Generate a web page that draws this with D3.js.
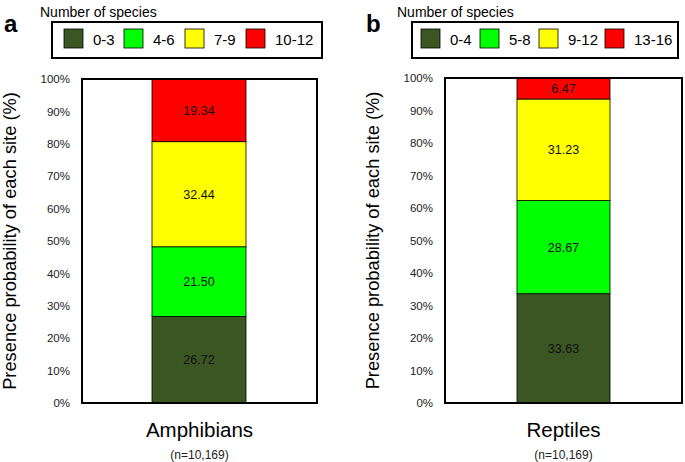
<!DOCTYPE html>
<html>
<head>
<meta charset="utf-8">
<script src="https://cdn.jsdelivr.net/npm/d3@7"></script>
<style>
  body { margin: 0; background: #fff; }
  text { font-family: "Liberation Sans", Arial, sans-serif; }
</style>
</head>
<body>
<svg id="chart" width="685" height="462"></svg>
<script>
// Données
const colors = ["#3b5523", "#00ff00", "#ffff00", "#ff0000"];
const ticks = [0, 10, 20, 30, 40, 50, 60, 70, 80, 90, 100];

const amphClasses = ["0-3", "4-6", "7-9", "10-12"];
const amphValues = [26.72, 21.50, 32.44, 19.34];

const reptClasses = ["0-4", "5-8", "9-12", "13-16"];
const reptValues = [33.63, 28.67, 31.23, 6.47];

const svg = d3.select("#chart");

// Position de chaque panneau
const panels = [
  { letter: "a", name: "Amphibians", n: "(n=10,169)", classes: amphClasses, values: amphValues,
    box: [82, 317], top: 79, bottom: 403, bar: [152, 246],
    legX: 52, legW: 270, swatchX: [64, 124, 185, 246], titleX: 40, letterX: 4 },
  { letter: "b", name: "Reptiles", n: "(n=10,169)", classes: reptClasses, values: reptValues,
    box: [445, 682], top: 78, bottom: 403, bar: [517, 610],
    legX: 412, legW: 266, swatchX: [421, 480, 539, 605], titleX: 397, letterX: 366 }
];

function drawPanel(p) {
  const g = svg.append("g");

  const y = d3.scaleLinear().domain([0, 100]).range([p.bottom, p.top]);

  // Empile les valeurs
  const stack = [];
  let acc = 0;
  p.values.forEach((v, i) => {
    stack.push({ y0: acc, y1: acc + v, v, i });
    acc += v;
  });

  // Fond du graphique
  g.append("rect")
    .attr("x", p.box[0]).attr("y", p.top)
    .attr("width", p.box[1] - p.box[0]).attr("height", p.bottom - p.top)
    .attr("fill", "#fff");

  // Segments de la barre
  g.selectAll(".seg").data(stack).join("rect")
    .attr("x", p.bar[0])
    .attr("width", p.bar[1] - p.bar[0])
    .attr("y", d => y(d.y1))
    .attr("height", d => y(d.y0) - y(d.y1))
    .attr("fill", d => colors[d.i])
    .attr("stroke", "#000").attr("stroke-width", 0.8);

  g.selectAll(".val").data(stack).join("text")
    .attr("x", (p.bar[0] + p.bar[1]) / 2)
    .attr("y", d => (y(d.y0) + y(d.y1)) / 2 + 4.5)
    .attr("text-anchor", "middle")
    .attr("font-size", 12.5)
    .attr("fill", "#111")
    .text(d => d.v.toFixed(2));

  // Cadre par-dessus
  g.append("rect")
    .attr("x", p.box[0]).attr("y", p.top)
    .attr("width", p.box[1] - p.box[0]).attr("height", p.bottom - p.top)
    .attr("fill", "none").attr("stroke", "#000").attr("stroke-width", 2);

  // Axe vertical
  const axis = g.append("g")
    .attr("transform", `translate(${p.box[0] - 1},0)`)
    .call(d3.axisLeft(y).tickValues(ticks).tickSize(0).tickPadding(11).tickFormat(d => d + "%"));
  axis.select(".domain").remove();
  axis.selectAll("text").attr("font-size", 11.5).attr("fill", "#222")
    .style("font-family", "Liberation Sans, Arial, sans-serif");

  g.append("text")
    .attr("transform", `translate(${p.box[0] - 66},${(p.top + p.bottom) / 2}) rotate(-90)`)
    .attr("text-anchor", "middle")
    .attr("font-size", 18.3)
    .text("Presence probability of each site (%)");

  // Libellés de catégorie
  const cx = (p.box[0] + p.box[1]) / 2;
  g.append("text").attr("x", cx).attr("y", 437).attr("text-anchor", "middle")
    .attr("font-size", 20.5).text(p.name);
  g.append("text").attr("x", cx).attr("y", 459).attr("text-anchor", "middle")
    .attr("font-size", 12).attr("fill", "#222").text(p.n);

  // Lettre du panneau
  g.append("text").attr("x", p.letterX).attr("y", 32)
    .attr("font-size", 24).attr("font-weight", "bold").text(p.letter);

  // Légende
  g.append("text").attr("x", p.titleX).attr("y", 17)
    .attr("font-size", 14).text("Number of species");
  g.append("rect").attr("x", p.legX).attr("y", 22).attr("width", p.legW).attr("height", 36)
    .attr("fill", "#fff").attr("stroke", "#000").attr("stroke-width", 2);
  p.classes.forEach((c, i) => {
    g.append("rect").attr("x", p.swatchX[i]).attr("y", 29).attr("width", 19).attr("height", 19)
      .attr("fill", colors[i]).attr("stroke", "#000").attr("stroke-width", 0.8);
    g.append("text").attr("x", p.swatchX[i] + 29).attr("y", 45)
      .attr("font-size", 15).text(c);
  });
}

panels.forEach(drawPanel);
</script>
</body>
</html>
